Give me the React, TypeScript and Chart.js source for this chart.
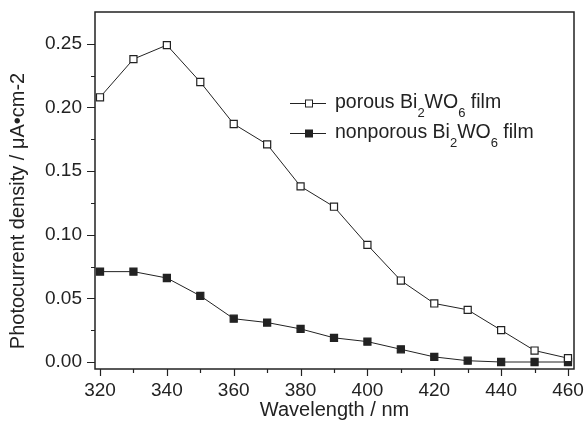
import React, { useEffect, useRef } from "react";
import { Chart, registerables } from "chart.js";

Chart.register(...registerables);

const wavelengths = [320, 330, 340, 350, 360, 370, 380, 390, 400, 410, 420, 430, 440, 450, 460];
const porous = [0.208, 0.238, 0.249, 0.220, 0.187, 0.171, 0.138, 0.122, 0.092, 0.064, 0.046, 0.041, 0.025, 0.009, 0.003];
const nonporous = [0.071, 0.071, 0.066, 0.052, 0.034, 0.031, 0.026, 0.019, 0.016, 0.010, 0.004, 0.001, 0.000, 0.000, 0.000];
const xMajorTicks = [320, 340, 360, 380, 400, 420, 440, 460];
const xMinorTicks = [330, 350, 370, 390, 410, 430, 450];
const yMajorTicks = [0, 0.05, 0.1, 0.15, 0.2, 0.25];
const yMinorTicks = [0.025, 0.075, 0.125, 0.175, 0.225];
const yTitle = "Photocurrent density / μA•cm-2";
const xTitle = "Wavelength / nm";
const legendItems = [
  { pre: "porous Bi", sub1: "2", mid: "WO", sub2: "6", post: " film", filled: false },
  { pre: "nonporous Bi", sub1: "2", mid: "WO", sub2: "6", post: " film", filled: true },
];

const FONT = "'Liberation Sans', Arial, sans-serif";
const INK = "#222";

const decorPlugin = {
  id: "decor",
  afterDraw(chart: any) {
    const ctx = chart.ctx;
    const area = chart.chartArea;
    const xs = chart.scales.x;
    const ys = chart.scales.y;
    ctx.save();
    ctx.strokeStyle = INK;
    ctx.lineWidth = 1.5;
    ctx.strokeRect(area.left, area.top, area.right - area.left, area.bottom - area.top);
    ctx.lineWidth = 1.2;
    ctx.beginPath();
    for (const v of xMajorTicks) {
      const px = Math.round(xs.getPixelForValue(v)) + 0.5;
      ctx.moveTo(px, area.bottom);
      ctx.lineTo(px, area.bottom + 7);
    }
    for (const v of xMinorTicks) {
      const px = Math.round(xs.getPixelForValue(v)) + 0.5;
      ctx.moveTo(px, area.bottom);
      ctx.lineTo(px, area.bottom + 4);
    }
    for (const v of yMajorTicks) {
      const py = Math.round(ys.getPixelForValue(v)) + 0.5;
      ctx.moveTo(area.left, py);
      ctx.lineTo(area.left - 8, py);
    }
    for (const v of yMinorTicks) {
      const py = Math.round(ys.getPixelForValue(v)) + 0.5;
      ctx.moveTo(area.left, py);
      ctx.lineTo(area.left - 4, py);
    }
    ctx.stroke();

    // y axis title (centred on the figure height)
    ctx.save();
    ctx.translate(18, 211);
    ctx.rotate(-Math.PI / 2);
    ctx.fillStyle = INK;
    ctx.font = `20px ${FONT}`;
    ctx.textAlign = "center";
    ctx.textBaseline = "middle";
    ctx.fillText(yTitle, 0, 0);
    ctx.restore();

    // legend
    const lx = 290;
    const rowY = [103, 133];
    legendItems.forEach((it, i) => {
      const y = rowY[i];
      ctx.strokeStyle = INK;
      ctx.lineWidth = 1;
      ctx.beginPath();
      ctx.moveTo(lx, y + 0.5);
      ctx.lineTo(lx + 36, y + 0.5);
      ctx.stroke();
      ctx.fillStyle = it.filled ? INK : "#fff";
      ctx.fillRect(lx + 15.5, y - 3, 7, 7);
      ctx.strokeRect(lx + 15.5, y - 3, 7, 7);
      let tx = lx + 45;
      ctx.fillStyle = INK;
      ctx.textBaseline = "middle";
      ctx.textAlign = "left";
      const big = `19.5px ${FONT}`;
      const small = `13px ${FONT}`;
      ctx.font = big;
      ctx.fillText(it.pre, tx, y);
      tx += ctx.measureText(it.pre).width;
      ctx.font = small;
      ctx.fillText(it.sub1, tx, y + 10);
      tx += ctx.measureText(it.sub1).width;
      ctx.font = big;
      ctx.fillText(it.mid, tx, y);
      tx += ctx.measureText(it.mid).width;
      ctx.font = small;
      ctx.fillText(it.sub2, tx, y + 10);
      tx += ctx.measureText(it.sub2).width;
      ctx.font = big;
      ctx.fillText(it.post, tx, y);
    });
    ctx.restore();
  },
};

export default function App() {
  const ref = useRef<HTMLCanvasElement>(null);
  useEffect(() => {
    if (!ref.current) return;
    const chart = new Chart(ref.current, {
      type: "line",
      data: {
        datasets: [
          {
            label: "porous",
            data: wavelengths.map((x, i) => ({ x, y: porous[i] })),
            borderColor: INK,
            borderWidth: 1,
            pointStyle: "rect",
            pointRadius: 5,
            pointBackgroundColor: "#fff",
            pointBorderColor: INK,
            pointBorderWidth: 1.2,
            tension: 0,
          },
          {
            label: "nonporous",
            data: wavelengths.map((x, i) => ({ x, y: nonporous[i] })),
            borderColor: INK,
            borderWidth: 1,
            pointStyle: "rect",
            pointRadius: 5,
            pointBackgroundColor: INK,
            pointBorderColor: INK,
            pointBorderWidth: 1.2,
            tension: 0,
          },
        ],
      },
      options: {
        animation: false,
        responsive: false,
        layout: { padding: { top: 12, right: 11, left: 0, bottom: 0 } },
        plugins: { legend: { display: false }, tooltip: { enabled: false } },
        scales: {
          x: {
            type: "linear",
            min: 318.5,
            max: 461.8,
            afterBuildTicks: (s: any) => {
              s.ticks = xMajorTicks.map((v) => ({ value: v }));
            },
            afterFit: (s: any) => {
              s.height = 53;
              s.paddingLeft = 0;
              s.paddingRight = 0;
            },
            grid: { display: false, drawTicks: false },
            border: { display: false },
            ticks: {
              padding: 10,
              color: INK,
              font: { family: FONT, size: 19 },
              maxRotation: 0,
              autoSkip: false,
              callback: (v: any) => String(v),
            },
            title: {
              display: true,
              text: xTitle,
              color: INK,
              font: { family: FONT, size: 20 },
              padding: { top: 0, bottom: 0 },
            },
          },
          y: {
            type: "linear",
            min: -0.0055,
            max: 0.275,
            afterBuildTicks: (s: any) => {
              s.ticks = yMajorTicks.map((v) => ({ value: v }));
            },
            afterFit: (s: any) => {
              s.width = 95;
              s.paddingTop = 0;
              s.paddingBottom = 0;
            },
            grid: { display: false, drawTicks: false },
            border: { display: false },
            ticks: {
              padding: 13,
              color: INK,
              font: { family: FONT, size: 19 },
              autoSkip: false,
              callback: (v: any) => Number(v).toFixed(2),
            },
            title: { display: false },
          },
        },
      },
      plugins: [decorPlugin],
    } as any);
    return () => chart.destroy();
  }, []);
  return (
    <div style={{ position: "fixed", left: 0, top: 0, width: 585, height: 422, background: "#fff" }}>
      <canvas ref={ref} width={585} height={422} style={{ display: "block", width: 585, height: 422 }} />
    </div>
  );
}
